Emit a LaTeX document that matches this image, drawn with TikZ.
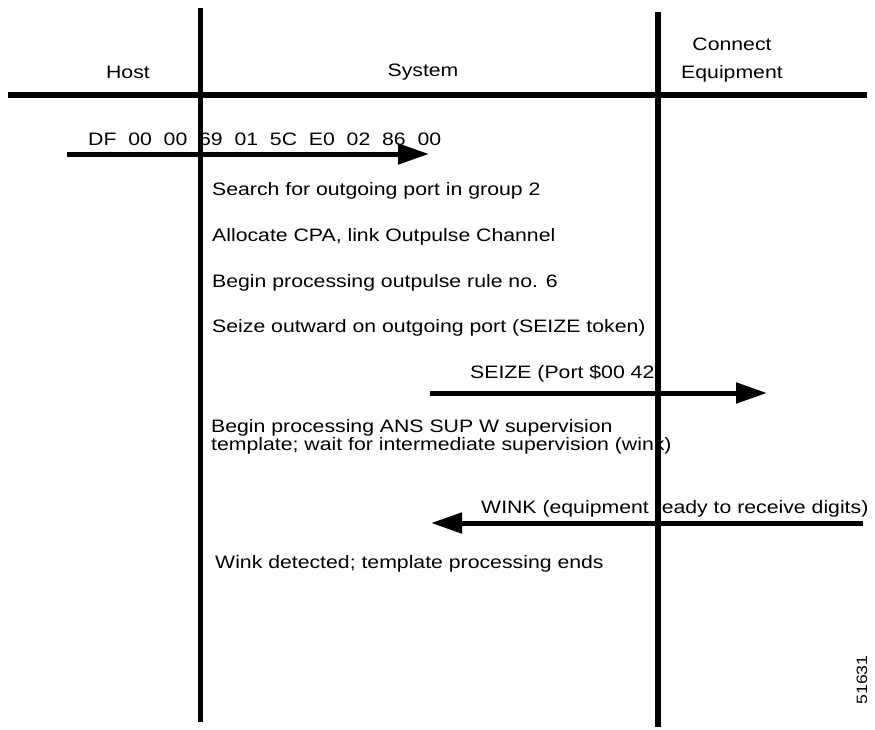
\documentclass[tikz,border=0pt]{standalone}
\usepackage{fontspec}
\setmainfont[FakeStretch=1.18]{Liberation Sans}
\usetikzlibrary{arrows.meta}
\begin{document}
\begin{tikzpicture}[x=1pt,y=-1pt,
  life/.style={line width=5.5pt},
  msg/.style={line width=5pt,-{Triangle[length=31pt,width=20pt]}},
  lbl/.style={inner sep=0pt,font=\fontsize{18}{14}\selectfont},
  note/.style={lbl,anchor=west}]
\useasboundingbox (0,0) rectangle (875,729);
% lifelines
\coordinate (hostTop) at (200.5,8);
\coordinate (hostBot) at (200.5,722);
\coordinate (eqTop) at (658,12);
\coordinate (eqBot) at (658,727);
\coordinate (hL) at (8,95);
\coordinate (hR) at (867,95);
\draw[life] (hostTop) -- (hostBot);
\draw[life] (eqTop) -- (eqBot);
\draw[life] (hL) -- (hR);
% headers
\node[lbl] (host) at (128,72) {Host};
\node[lbl] (system) at (423,72) {System};
\node[lbl,align=center,font=\fontsize{18}{28}\selectfont] (equip) at (732,60) {Connect\\Equipment};
% first message
\coordinate (m1s) at (67,154);
\coordinate (m1e) at (429,154);
\draw[msg] (m1s) -- (m1e);
\node[note] (m1t) at (88,139) {DF\ \ 00\ \ 00\ \ 69\ \ 01\ \ 5C\ \ E0\ \ 02\ \ 86\ \ 00};
% notes
\node[note] (n1) at (212,191) {Search for outgoing port in group 2};
\node[note] (n2) at (212,237) {Allocate CPA, link Outpulse Channel};
\node[note] (n3) at (212,283) {Begin processing outpulse rule no. 6};
\node[note] (n4) at (212,328) {Seize outward on outgoing port (SEIZE token)};
% seize
\coordinate (m2s) at (430,393);
\coordinate (m2e) at (767,393);
\draw[msg] (m2s) -- (m2e);
\node[note] (m2t) at (470,374) {SEIZE (Port \$00 42)};
\node[note,align=left] (n5) at (211,437) {Begin processing ANS SUP W supervision\\template; wait for intermediate supervision (wink)};
% wink
\coordinate (m3s) at (863,523);
\coordinate (m3e) at (431,523);
\draw[msg] (m3s) -- (m3e);
\node[note] (m3t) at (481,509) {WINK (equipment ready to receive digits)};
\node[note] (n6) at (215,564) {Wink detected; template processing ends};
\node[lbl,rotate=90,font=\fontsize{15}{15}\selectfont] (fig) at (862,680) {51631};
\end{tikzpicture}
\end{document}
